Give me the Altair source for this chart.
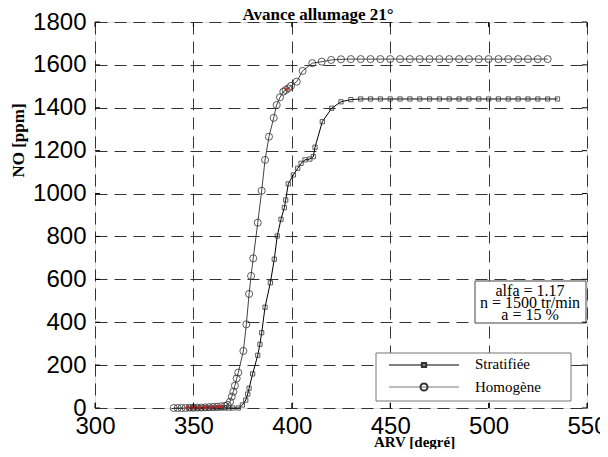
import altair as alt
import pandas as pd

# ---- data ----
homog_x = [340, 342, 344, 346, 348, 350, 352, 354, 356, 358, 360, 362, 364, 366,
           367.4, 368.6, 369.5, 370.3, 371.1, 372.0, 372.8, 375.4, 376.9, 378.3,
           379.3, 380.4, 382.7, 384.7, 386.4, 388.4, 390.8, 392.3, 394.0, 395.7,
           396.9, 398.2, 399.6, 402.5, 405.5, 410.4, 415.2, 420,
           425, 430, 435, 440, 445, 450, 455, 460, 465, 470, 475, 480, 485, 490,
           495, 500, 505, 510, 515, 520, 525, 530]
homog_y = [0, 0, 0, 0, 1, 1, 2, 2, 3, 4, 5, 6, 8, 10,
           14, 29, 53, 76, 104, 138, 165, 266, 390, 532,
           616, 698, 864, 1013, 1157, 1265, 1353, 1413, 1449, 1475,
           1483, 1491, 1502, 1522, 1572, 1608, 1615, 1623,
           1626, 1627, 1627, 1627, 1627, 1627, 1627, 1627, 1627, 1627, 1627, 1627,
           1627, 1627, 1627, 1627, 1627, 1627, 1627, 1627, 1627, 1627]

strat_x = [348, 350, 352, 354, 356, 358, 360, 362, 364, 366, 368, 370, 372.8,
           374.9, 376.6, 377.6, 378.3, 380.1, 382.7, 383.8, 384.7, 386.4, 389.1,
           391.1, 392.6, 394.5, 396.2, 396.9, 398.2, 400.8, 403.0, 404.7, 406.7,
           409.2, 410.9, 411.8, 415.5, 420.3, 425, 430,
           435, 440, 445, 450, 455, 460, 465, 470, 475, 480, 485, 490, 495, 500,
           505, 510, 515, 520, 525, 530, 535]
strat_y = [0, 0, 0, 0, 0, 0, 0, 0, 0, 0, 0, 0, 0,
           14, 37, 65, 92, 159, 246, 297, 351, 470, 584,
           694, 802, 880, 934, 970, 1045, 1087, 1118, 1141, 1157,
           1161, 1172, 1216, 1335, 1398, 1428, 1438,
           1441, 1441, 1441, 1441, 1441, 1441, 1441, 1441, 1441, 1441, 1441, 1441,
           1441, 1441, 1441, 1441, 1441, 1441, 1441, 1441, 1441]

# small red markers visible in the reference
red_x = [347, 350, 353, 356, 359, 362, 364, 397.5]
red_y = [2, 3, 3, 4, 4, 6, 8, 1487]

x_ticks = [300, 350, 400, 450, 500, 550]
y_ticks = [0, 200, 400, 600, 800, 1000, 1200, 1400, 1600, 1800]

title_text = "Avance allumage 21°"
x_title = "ARV [degré]"
y_title = "NO [ppm]"
legend_labels = ["Stratifiée", "Homogène"]
note_lines = ["alfa = 1.17", "n = 1500 tr/min", "a = 15 %"]

W, H = 492, 386
SERIF = "Liberation Serif"
SANS = "Liberation Sans"

hom = pd.DataFrame({"x": homog_x, "y": homog_y})
strat = pd.DataFrame({"x": strat_x, "y": strat_y})
red = pd.DataFrame({"x": red_x, "y": red_y})

xs = alt.Scale(domain=[300, 550], nice=False, zero=False)
ys = alt.Scale(domain=[0, 1800], nice=False)

xax = alt.Axis(values=x_ticks, format="d", ticks=False, domain=False, grid=True,
               gridDash=[12, 7], gridColor="#333", gridOpacity=1,
               labelFont=SANS, labelFontSize=24, labelColor="black",
               labelPadding=6, title=x_title, titleFont=SERIF, titleFontSize=15,
               titleFontWeight="bold", titleColor="black", titleX=319, titleY=38,
               titleBaseline="alphabetic", titleAlign="center", labelFlush=False)
yax = alt.Axis(values=y_ticks, format="d", ticks=False, domain=False, grid=True,
               gridDash=[12, 7], gridColor="#333", gridOpacity=1,
               labelFont=SANS, labelFontSize=24, labelColor="black",
               labelPadding=9, title=y_title, titleFont=SERIF, titleFontSize=17,
               titleFontWeight="bold", titleColor="black", titleX=-77, titleY=118,
               titleAngle=-90, titleAlign="center", titleBaseline="middle",
               labelFlush=False)

line_h = alt.Chart(hom).mark_line(color="#444", strokeWidth=1).encode(
    x=alt.X("x:Q", scale=xs, axis=xax), y=alt.Y("y:Q", scale=ys, axis=yax))
pts_h = alt.Chart(hom).mark_point(shape="circle", size=50, filled=False,
                                   color="#333", strokeWidth=0.8, opacity=1).encode(
    x=alt.X("x:Q", scale=xs), y=alt.Y("y:Q", scale=ys))
line_s = alt.Chart(strat).mark_line(color="black", strokeWidth=1).encode(
    x=alt.X("x:Q", scale=xs), y=alt.Y("y:Q", scale=ys))
pts_s = alt.Chart(strat).mark_point(shape="square", size=18, filled=False,
                                     color="#333", strokeWidth=0.8, opacity=1).encode(
    x=alt.X("x:Q", scale=xs), y=alt.Y("y:Q", scale=ys))
pts_r = alt.Chart(red).mark_point(shape="circle", size=14, filled=True,
                                   color="#d02020", opacity=0.8).encode(
    x=alt.X("x:Q", scale=xs), y=alt.Y("y:Q", scale=ys))

# inward ticks on all four sides
tx = pd.DataFrame({"x": x_ticks})
ty = pd.DataFrame({"y": y_ticks})
tick_b = alt.Chart(tx).mark_rule(color="black").encode(
    x=alt.X("x:Q", scale=xs), y=alt.value(H), y2=alt.value(H - 5))
tick_t = alt.Chart(tx).mark_rule(color="black").encode(
    x=alt.X("x:Q", scale=xs), y=alt.value(0), y2=alt.value(5))
tick_l = alt.Chart(ty).mark_rule(color="black").encode(
    y=alt.Y("y:Q", scale=ys), x=alt.value(0), x2=alt.value(5))
tick_r = alt.Chart(ty).mark_rule(color="black").encode(
    y=alt.Y("y:Q", scale=ys), x=alt.value(W), x2=alt.value(W - 5))

one = pd.DataFrame({"a": [0]})


def label(text, x, y, size, align="left", weight="normal"):
    return alt.Chart(one).mark_text(font=SERIF, fontSize=size, fontWeight=weight,
                                    align=align, baseline="middle",
                                    color="black").encode(
        text=alt.value(text), x=alt.value(x), y=alt.value(y))


# legend box
leg_box = alt.Chart(one).mark_rect(fill="white", stroke="#777", strokeWidth=1).encode(
    x=alt.value(281), x2=alt.value(476), y=alt.value(331), y2=alt.value(379))
leg_l1 = alt.Chart(one).mark_rule(color="black").encode(
    x=alt.value(294), x2=alt.value(364), y=alt.value(343))
leg_l2 = alt.Chart(one).mark_rule(color="#777").encode(
    x=alt.value(294), x2=alt.value(364), y=alt.value(365))
leg_m1 = alt.Chart(one).mark_point(shape="square", size=18, filled=False,
                                    color="#333", opacity=1).encode(
    x=alt.value(329), y=alt.value(343))
leg_m2 = alt.Chart(one).mark_point(shape="circle", size=50, filled=False,
                                    color="#333", opacity=1).encode(
    x=alt.value(329), y=alt.value(365))
leg_txt = [label(t, 380, yy, 15) for t, yy in zip(legend_labels, [342, 365])]

# annotation box
note_box = alt.Chart(one).mark_rect(fill="white", stroke="#444", strokeWidth=1).encode(
    x=alt.value(380), x2=alt.value(491), y=alt.value(259), y2=alt.value(301))
note_txt = [label(t, 435, yy, 16, align="center")
            for t, yy in zip(note_lines, [269, 281, 293])]

title = alt.Chart(one).mark_text(font=SERIF, fontSize=17, fontWeight="bold",
                                  align="center", baseline="alphabetic",
                                  color="black").encode(
    text=alt.value(title_text), x=alt.value(223), y=alt.value(-2))

chart = alt.layer(
    line_h, line_s, pts_h, pts_s, pts_r,
    note_box, *note_txt, leg_box, leg_l1, leg_l2, leg_m1, leg_m2, *leg_txt,
    tick_b, tick_t, tick_l, tick_r, title
).properties(
    width=W, height=H,
    autosize=alt.AutoSizeParams(type="none"),
    padding={"left": 87, "top": 14, "right": 13, "bottom": 41},
).configure_view(stroke="#555", strokeWidth=1).configure(background="white")

chart.save("out.html", embed_options={"renderer": "svg", "actions": False})
